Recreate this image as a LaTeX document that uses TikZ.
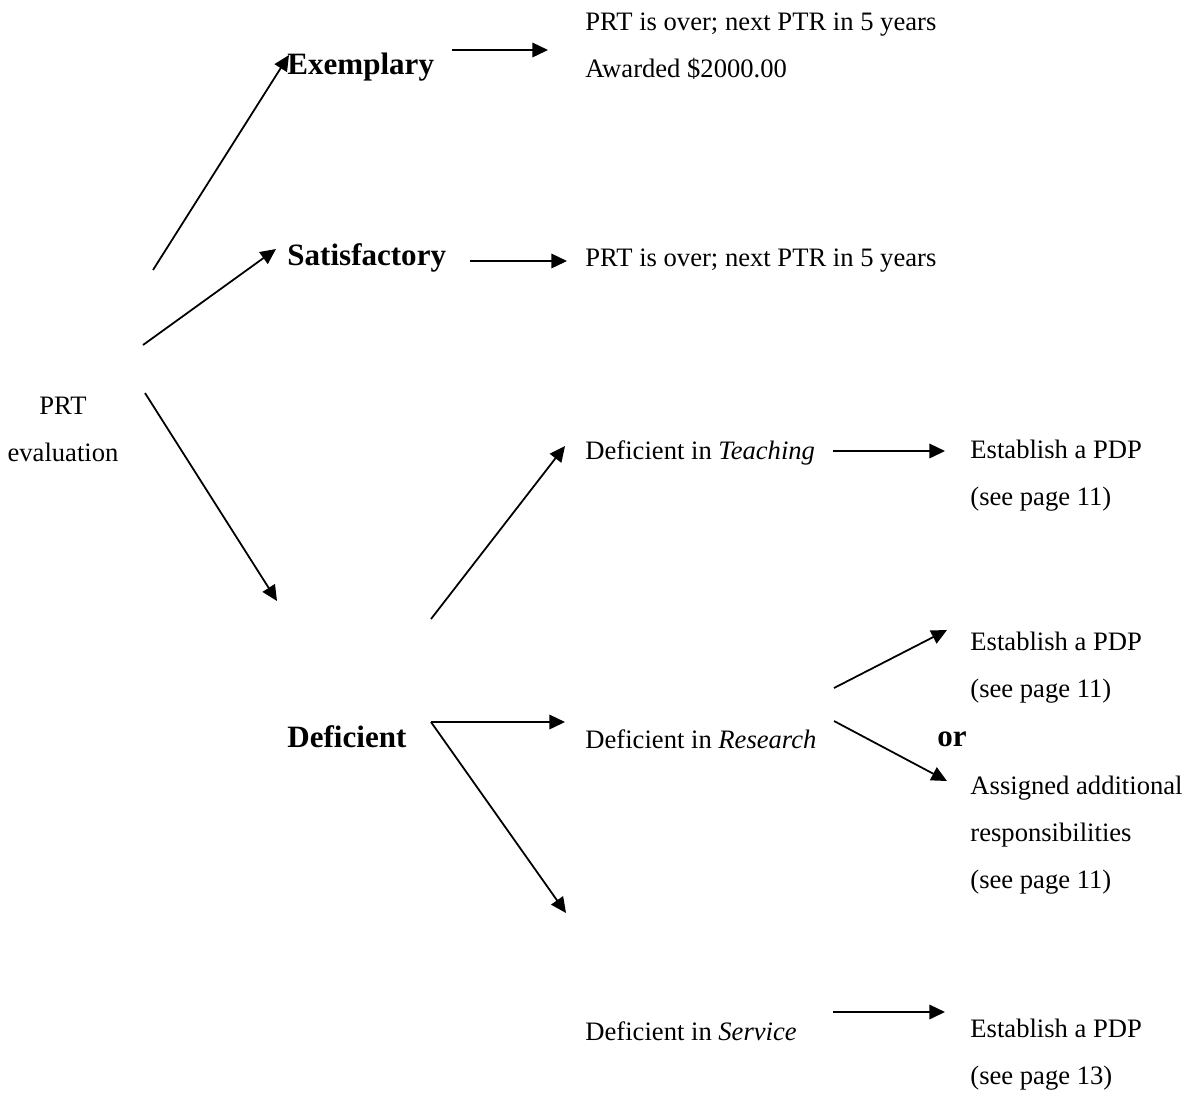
\documentclass[tikz,border=0pt]{standalone}
\usepackage{fontspec}
\setmainfont{Liberation Serif}
\usetikzlibrary{arrows.meta}

\begin{document}
\begin{tikzpicture}[x=0.451pt,y=-0.451pt,
  txt/.style={anchor=west,inner sep=0pt,align=left,font=\fontsize{12}{21.2}\selectfont},
  grade/.style={anchor=west,inner sep=0pt,font=\fontsize{14}{17}\selectfont\bfseries},
  arr/.style={-{Triangle[length=7pt,width=6.5pt]},line width=0.8pt}]
\useasboundingbox (0,0) rectangle (1190,1092);

% evaluation and grades
\node[txt,anchor=center,align=center] (prt) at (63,429) {PRT\\evaluation};
\node[grade] (exem) at (287,67) {Exemplary};
\node[grade] (satis) at (287,258) {Satisfactory};
\node[grade] (defic) at (287,737) {Deficient};

% outcomes
\node[txt] (exemres) at (585,46) {PRT is over; next PTR in 5 years\\Awarded \$2000.00};
\node[txt] (satisres) at (585,261) {PRT is over; next PTR in 5 years};
\node[txt] (teach) at (585,453) {Deficient in \textit{Teaching}};
\node[txt] (resea) at (585,739) {Deficient in \textit{Research}};
\node[txt] (serv) at (585,1031) {Deficient in \textit{Service}};
\node[txt] (teachres) at (970,476) {Establish a PDP\\(see page 11)};
\node[txt] (reseapdp) at (970,668) {Establish a PDP\\(see page 11)};
\node[grade] (or) at (937,739) {or};
\node[txt] (reseaadd) at (970,835) {Assigned additional\\responsibilities\\(see page 11)};
\node[txt] (servres) at (970,1055) {Establish a PDP\\(see page 13)};

% arrow ends
\coordinate (e1) at (153,270);   \coordinate (e2) at (289,55);
\coordinate (e3) at (452,50);    \coordinate (e4) at (548,50);
\coordinate (s1) at (143,345);   \coordinate (s2) at (276,249);
\coordinate (s3) at (470,261);   \coordinate (s4) at (567,261);
\coordinate (d1) at (145,393);   \coordinate (d2) at (277,601);
\coordinate (t1) at (431,619);   \coordinate (t2) at (565,446);
\coordinate (t3) at (833,451);   \coordinate (t4) at (945,451);
\coordinate (r0) at (431,722);   \coordinate (r1) at (565,722);
\coordinate (r2) at (834,688);   \coordinate (r3) at (947,630);
\coordinate (r4) at (834,721);   \coordinate (r5) at (947,781);
\coordinate (v1) at (566,913);
\coordinate (v2) at (833,1012);  \coordinate (v3) at (945,1012);

\draw[arr] (e1) -- (e2);
\draw[arr] (e3) -- (e4);
\draw[arr] (s1) -- (s2);
\draw[arr] (s3) -- (s4);
\draw[arr] (d1) -- (d2);
\draw[arr] (t1) -- (t2);
\draw[arr] (t3) -- (t4);
\draw[arr] (r0) -- (r1);
\draw[arr] (r2) -- (r3);
\draw[arr] (r4) -- (r5);
\draw[arr] (r0) -- (v1);
\draw[arr] (v2) -- (v3);
\end{tikzpicture}
\end{document}
